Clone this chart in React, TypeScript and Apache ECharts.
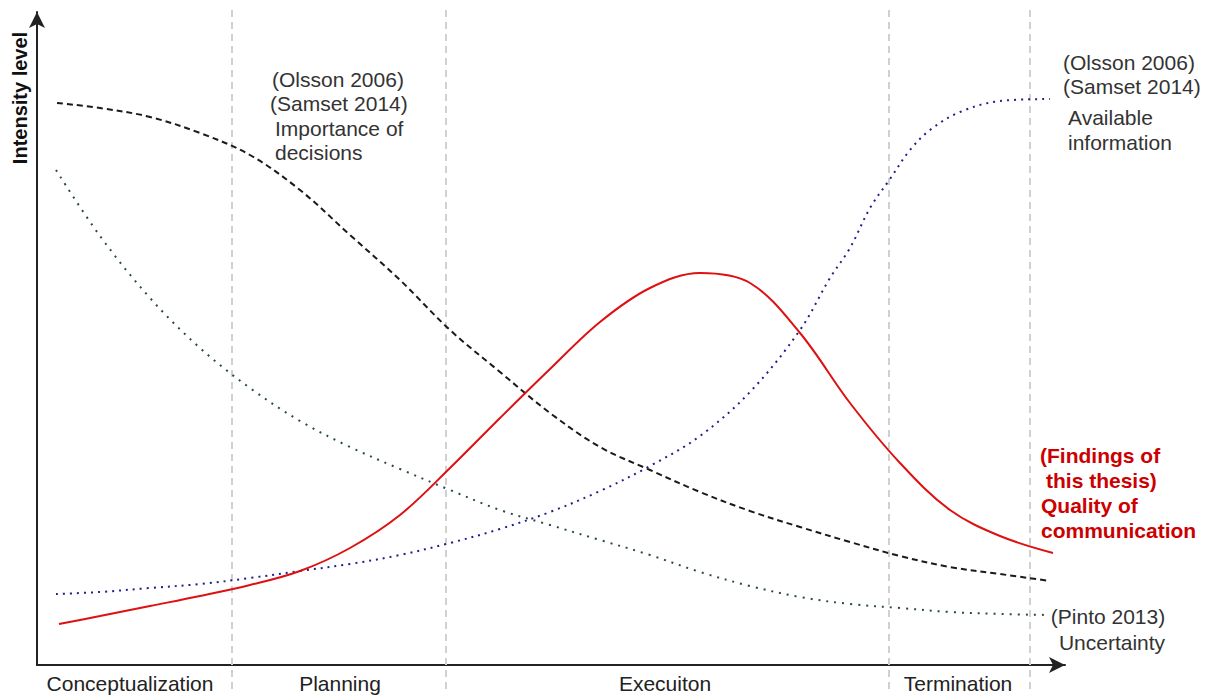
import React, { useEffect, useRef } from "react";
import * as echarts from "echarts";

// Project time (x) and intensity level (y), schematic units
const importanceOfDecisions: [number, number][] = [
  [20, 562], [63, 557], [113, 548], [163, 532], [213, 510], [263, 475], [313, 430],
  [363, 385], [413, 335], [463, 293], [513, 252], [563, 218], [613, 195], [663, 173],
  [713, 154], [763, 138], [813, 123], [863, 109], [913, 98], [963, 91], [1013, 84],
];
const uncertainty: [number, number][] = [
  [19, 495], [63, 429], [113, 367], [163, 317], [213, 277], [263, 244], [313, 218],
  [363, 196], [413, 175], [463, 155], [513, 140], [563, 125], [613, 110], [663, 93],
  [713, 79], [763, 68], [813, 61], [863, 57], [913, 53], [963, 51], [1013, 50],
];
const availableInformation: [number, number][] = [
  [19, 71], [63, 73], [113, 77], [163, 81], [213, 87], [263, 94], [313, 101],
  [363, 110], [413, 122], [463, 136], [513, 153], [563, 174], [613, 199], [663, 229],
  [713, 273], [763, 335], [793, 387], [813, 417], [833, 457], [853, 486], [873, 515],
  [893, 535], [923, 553], [963, 564], [1013, 566],
];
const qualityOfCommunication: [number, number][] = [
  [22, 41], [63, 49], [113, 59], [163, 69], [213, 80], [263, 94], [313, 117],
  [363, 150], [413, 197], [463, 247], [513, 296], [563, 343], [613, 377], [663, 392],
  [713, 382], [763, 332], [813, 262], [863, 202], [913, 155], [963, 129], [1016, 112],
];

const phases = ["Conceptualization", "Planning", "Execuiton", "Termination"];
const phaseLabelPositions = [93, 303, 628, 921];
const phaseBoundaries = [195, 409, 852, 993];

const X_MAX = 1028;
const Y_MAX = 653;
const FONT = "'Liberation Sans', Arial, sans-serif";
const SMOOTH = 0.35;

export default function App() {
  const ref = useRef<HTMLDivElement>(null);

  useEffect(() => {
    if (!ref.current) return;
    const chart = echarts.init(ref.current, null, { renderer: "svg" });

    const txt = (text: string, x: number, y: number, opts: any = {}) => ({
      type: "text",
      x,
      y,
      silent: true,
      style: {
        text,
        fontSize: 21,
        fontFamily: FONT,
        fill: "#333",
        textAlign: "left",
        textVerticalAlign: "middle",
        ...opts,
      },
    });

    chart.setOption({
      animation: false,
      backgroundColor: "#fff",
      grid: { left: 37, right: 143, top: 12, bottom: 32, containLabel: false },
      xAxis: {
        type: "value",
        min: 0,
        max: X_MAX,
        splitLine: { show: false },
        axisTick: { show: false },
        axisLine: {
          show: true,
          onZero: false,
          symbol: ["none", "arrow"],
          symbolSize: [12, 16],
          lineStyle: { color: "#222", width: 2 },
        },
        axisLabel: {
          customValues: phaseLabelPositions,
          formatter: (v: number) => {
            const i = phaseLabelPositions.findIndex((p) => Math.abs(p - v) < 0.5);
            return i >= 0 ? phases[i] : "";
          },
          fontSize: 21,
          fontFamily: FONT,
          color: "#222",
          margin: 8,
        },
      },
      yAxis: {
        type: "value",
        min: 0,
        max: Y_MAX,
        splitLine: { show: false },
        axisTick: { show: false },
        axisLabel: { show: false },
        axisLine: {
          show: true,
          onZero: false,
          symbol: ["none", "arrow"],
          symbolSize: [12, 16],
          lineStyle: { color: "#222", width: 2 },
        },
      },
      series: [
        {
          type: "custom",
          data: phaseBoundaries.map((b) => [b, 0]),
          z: 1,
          silent: true,
          renderItem: (_params: any, api: any) => {
            const x = api.value(0);
            const top = api.coord([x, Y_MAX]);
            const bottom = api.coord([x, 0]);
            return {
              type: "line",
              shape: { x1: top[0], y1: top[1] - 2, x2: top[0], y2: bottom[1] + 25 },
              style: { stroke: "#d0d0d0", lineWidth: 2, lineDash: [7, 5] },
            };
          },
        },
        {
          name: "Importance of decisions",
          type: "line",
          data: importanceOfDecisions,
          smooth: SMOOTH,
          showSymbol: false,
          z: 3,
          lineStyle: { color: "#1a1a1a", width: 2, type: [6, 4] },
        },
        {
          name: "Uncertainty",
          type: "line",
          data: uncertainty,
          smooth: SMOOTH,
          showSymbol: false,
          z: 3,
          lineStyle: { color: "#2b4a42", width: 2, type: [2, 6] },
        },
        {
          name: "Available information",
          type: "line",
          data: availableInformation,
          smooth: SMOOTH,
          showSymbol: false,
          z: 3,
          lineStyle: { color: "#20208a", width: 2, type: [2, 5] },
        },
        {
          name: "Quality of communication",
          type: "line",
          data: qualityOfCommunication,
          smooth: SMOOTH,
          showSymbol: false,
          z: 4,
          lineStyle: { color: "#dd1111", width: 2 },
        },
      ],
      graphic: [
        {
          type: "text",
          x: 20,
          y: 98,
          rotation: Math.PI / 2,
          silent: true,
          style: {
            text: "Intensity level",
            fontSize: 20,
            fontWeight: "bold",
            fontFamily: FONT,
            fill: "#111",
            textAlign: "center",
            textVerticalAlign: "middle",
          },
        },
        txt("(Olsson 2006)", 272, 79),
        txt("(Samset 2014)", 270, 103),
        txt("Importance of", 275, 128),
        txt("decisions", 275, 152),
        txt("(Olsson 2006)", 1063, 62),
        txt("(Samset 2014)", 1063, 86),
        txt("Available", 1068, 117),
        txt("information", 1068, 142),
        txt("(Pinto 2013)", 1108, 616, { textAlign: "center" }),
        txt("Uncertainty", 1112, 642, { textAlign: "center" }),
        txt("(Findings of", 1040, 455, { fill: "#cc0000", fontWeight: "bold" }),
        txt("this thesis)", 1046, 480, { fill: "#cc0000", fontWeight: "bold" }),
        txt("Quality of", 1041, 505, { fill: "#cc0000", fontWeight: "bold" }),
        txt("communication", 1041, 530, { fill: "#cc0000", fontWeight: "bold" }),
      ],
    });

    return () => chart.dispose();
  }, []);

  return (
    <div
      ref={ref}
      style={{ position: "fixed", left: 0, top: 0, width: 1208, height: 697, background: "#fff" }}
    />
  );
}
